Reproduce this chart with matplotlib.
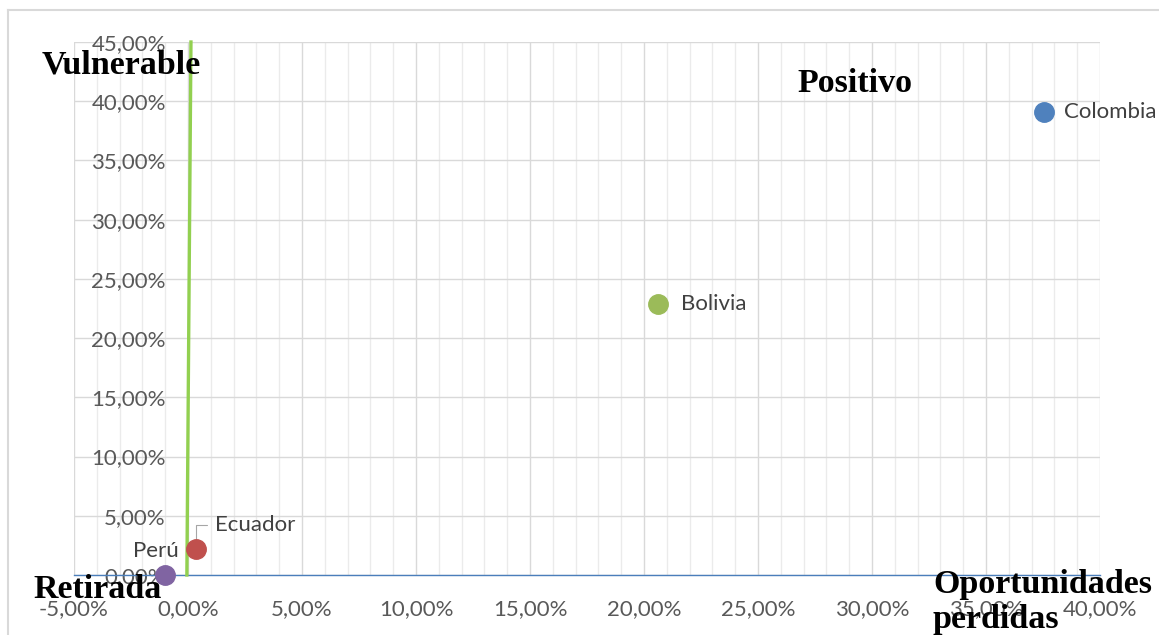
import matplotlib.pyplot as plt
from matplotlib.ticker import FuncFormatter, MultipleLocator
from matplotlib.lines import Line2D

# data
paises = ['Colombia', 'Bolivia', 'Ecuador', 'Perú']
x_vals = [0.3755, 0.206, 0.0035, -0.010]
y_vals = [0.391, 0.229, 0.022, 0.0]
colores = ['#4f81bd', '#9bbb59', '#c0504d', '#8064a2']

linea_x = [-0.0005, 0.0013]
linea_y = [0.0, 0.45]

W, H = 1159, 635
fig = plt.figure(figsize=(W / 100, H / 100), dpi=100)
ax = fig.add_axes([74 / W, 1 - 575 / H, (1100 - 74) / W, (575 - 42) / H])

def pct(v, pos):
    return ('%.2f%%' % (v * 100)).replace('.', ',')

ax.set_xlim(-0.05, 0.40)
ax.set_ylim(0, 0.45)
ax.xaxis.set_major_locator(MultipleLocator(0.05))
ax.xaxis.set_minor_locator(MultipleLocator(0.01))
ax.yaxis.set_major_locator(MultipleLocator(0.05))
ax.xaxis.set_major_formatter(FuncFormatter(pct))
ax.yaxis.set_major_formatter(FuncFormatter(pct))

ax.grid(which='major', color='#d9d9d9', lw=1)
ax.grid(which='minor', axis='x', color='#ebebeb', lw=1)
ax.set_axisbelow(True)

for s in ['top', 'right']:
    ax.spines[s].set_visible(False)
ax.spines['left'].set_position(('data', 0))
ax.spines['left'].set_visible(False)
ax.spines['bottom'].set_color('#4a7ebb')
ax.spines['bottom'].set_linewidth(1)

ax.tick_params(which='both', length=0)
ax.tick_params(axis='x', pad=17, labelsize=16, labelcolor='#595959')
ax.tick_params(axis='y', pad=16, labelsize=16, labelcolor='#595959')
for lab in ax.get_xticklabels() + ax.get_yticklabels():
    lab.set_family('Lato')

# green vertical series
ax.plot(linea_x, linea_y, color='#92d050', lw=2.4, zorder=3, clip_on=False)

for px, py, c in zip(x_vals, y_vals, colores):
    ax.plot(px, py, 'o', ms=14, color=c, zorder=4, clip_on=False)

lbl = dict(fontsize=16, color='#404040', family='Lato', va='center')
ax.annotate('Colombia', (x_vals[0], y_vals[0]), xytext=(14, 0),
            textcoords='offset points', ha='left', **lbl)
ax.annotate('Bolivia', (x_vals[1], y_vals[1]), xytext=(17, 0),
            textcoords='offset points', ha='left', **lbl)
ax.annotate('Ecuador', (x_vals[2], y_vals[2]), xytext=(14, 17),
            textcoords='offset points', ha='left',
            arrowprops=dict(arrowstyle='-', color='#a6a6a6', lw=0.8,
                            shrinkA=4, shrinkB=0, relpos=(0, 0.5),
                            connectionstyle='angle,angleA=0,angleB=90,rad=0'),
            **lbl)
ax.annotate('Perú', (x_vals[3], y_vals[3]), xytext=(10, 17),
            textcoords='offset points', ha='right', **lbl)

# quadrant labels
qs = dict(family='Liberation Serif', weight='bold', fontsize=24.5,
          color='black', ha='left', va='baseline')
fig.text(42 / W, 1 - 73 / H, 'Vulnerable', **qs)
fig.text(797 / W, 1 - 92 / H, 'Positivo', **qs)
fig.text(33 / W, 1 - 598 / H, 'Retirada', **qs)
fig.text(933 / W, 1 - 593 / H, 'Oportunidades', **qs)
fig.text(933 / W, 1 - 628 / H, 'perdidas', **qs)

# chart border
fig.add_artist(Line2D([8 / W, 1.0], [1 - 10 / H, 1 - 10 / H], color='#d9d9d9', lw=1.5))
fig.add_artist(Line2D([8 / W, 8 / W], [0, 1 - 10 / H], color='#d9d9d9', lw=1.5))

fig.savefig('out.png', dpi=100)
